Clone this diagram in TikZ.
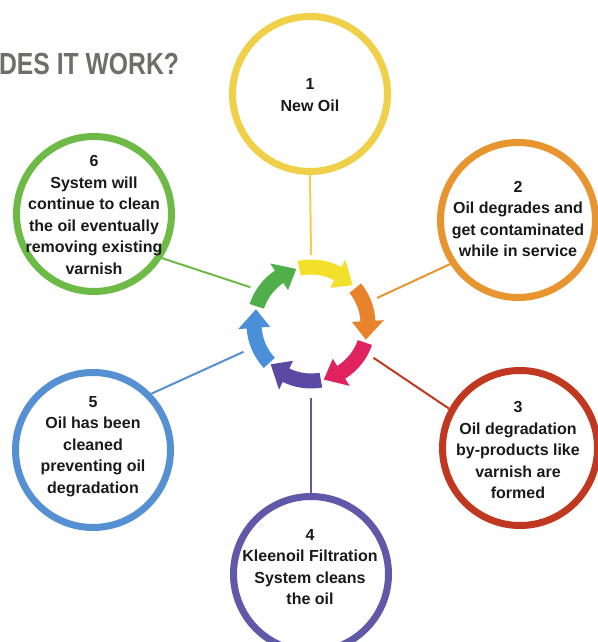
\documentclass[tikz,border=0pt]{standalone}
\usepackage{fontspec}
\setmainfont{Liberation Sans}
\usetikzlibrary{calc}
\definecolor{ryel}{HTML}{EFD048}
\definecolor{rora}{HTML}{E8952F}
\definecolor{rred}{HTML}{C0381F}
\definecolor{rpur}{HTML}{6058A8}
\definecolor{rblu}{HTML}{5590D3}
\definecolor{rgre}{HTML}{6DBA47}
\definecolor{ayel}{HTML}{F3E02A}
\definecolor{aora}{HTML}{E8832B}
\definecolor{ared}{HTML}{E0235F}
\definecolor{apur}{HTML}{5B4AA3}
\definecolor{ablu}{HTML}{4A90D9}
\definecolor{agre}{HTML}{4FB04A}
\definecolor{txt}{HTML}{1A1A1A}
\definecolor{ttl}{HTML}{6E6F6B}
\newcommand\cycarrow[3]{%
  \fill[#1] ($(cyc)+(#2:64.5)$) arc[start angle=#2, end angle=#3+19, radius=64.5]
    -- ($(cyc)+(#3+19:73)$) -- ($(cyc)+(#3:57)$) -- ($(cyc)+(#3+19:41)$)
    -- ($(cyc)+(#3+19:49.5)$) arc[start angle=#3+19, end angle=#2, radius=49.5] -- cycle;}
\begin{document}
\begin{tikzpicture}[x=1pt,y=1pt,
  stage/.style={circle, draw=#1, line width=7pt, minimum size=155pt, inner sep=0pt},
  stagetext/.style={align=center, inner sep=0pt, text=txt, font=\bfseries\fontsize{16}{21.5}\selectfont},
  link/.style={draw=#1, line width=2pt}]
\useasboundingbox (0,0) rectangle (597,642);
\coordinate (cyc) at (311,318);
% title
\node[anchor=base west, inner sep=0pt, xscale=0.81, text=ttl, font=\bfseries\fontsize{30.5}{34}\selectfont] (title) at (-1,567) {DES IT WORK?};
% stage circles
\node[stage=ryel] (c1) at (310,548) {};
\node[stage=rora] (c2) at (518,422) {};
\node[stage=rred] (c3) at (520,194) {};
\node[stage=rpur] (c4) at (311,68) {};
\node[stage=rblu] (c5) at (93,192) {};
\node[stage=rgre] (c6) at (94,428) {};
% texts
\node[stagetext] (t1) at (310,547) {1\\New Oil};
\node[stagetext] (t2) at (518,423) {2\\Oil degrades and\\get contaminated\\while in service};
\node[stagetext] (t3) at (518,192) {3\\Oil degradation\\by-products like\\varnish are\\formed};
\node[stagetext] (t4) at (310,75) {4\\Kleenoil Filtration\\System cleans\\the oil};
\node[stagetext] (t5) at (93,195.5) {5\\Oil has been\\cleaned\\preventing oil\\degradation};
\node[stagetext] (t6) at (94,427) {6\\System will\\continue to clean\\the oil eventually\\removing existing\\varnish};
% connector start points on the cycle
\coordinate (s1) at ($(cyc)+(90:69)$);
\coordinate (s2) at ($(cyc)+(21.5:71)$);
\coordinate (s3) at ($(cyc)+(-28.4:71)$);
\coordinate (s4) at ($(cyc)+(-90:74)$);
\coordinate (s5) at ($(cyc)+(202.4:73)$);
\coordinate (s6) at ($(cyc)+(148.8:71)$);
\draw[link=ryel] (s1) -- (c1.south);
\draw[link=rora] (s2) -- (c2.213);
\draw[link=rred] (s3) -- (c3.151);
\draw[link=rpur] (s4) -- (c4.north);
\draw[link=rblu] (s5) -- (c5.44);
\draw[link=rgre] (s6) -- (c6.-33);
% cycle arrows
\cycarrow{ayel}{102}{43}
\cycarrow{aora}{39}{-16}
\cycarrow{ared}{-19}{-77}
\cycarrow{apur}{-80}{-135}
\cycarrow{ablu}{-137}{-195}
\cycarrow{agre}{162}{105}
\end{tikzpicture}
\end{document}
